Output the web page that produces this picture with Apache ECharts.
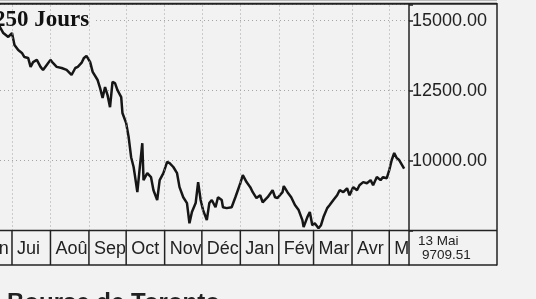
<!DOCTYPE html>
<html>
<head>
<meta charset="utf-8">
<script src="https://cdn.jsdelivr.net/npm/echarts@6/dist/echarts.min.js"></script>
<style>
html, body { margin: 0; padding: 0; background: #f2f2f2; }
#chart { width: 536px; height: 299px; }
</style>
</head>
<body>
<div id="chart"></div>
<script>
// indice de la Bourse de Toronto (250 jours)
const dates = [
  '2008-06-21', '2008-06-24', '2008-06-28', '2008-07-01', '2008-07-03', '2008-07-06', '2008-07-09', '2008-07-11',
  '2008-07-14', '2008-07-16', '2008-07-18', '2008-07-21', '2008-07-24', '2008-07-26', '2008-07-29', '2008-08-01',
  '2008-08-03', '2008-08-06', '2008-08-10', '2008-08-14', '2008-08-18', '2008-08-21', '2008-08-23', '2008-08-26',
  '2008-08-28', '2008-08-30', '2008-09-02', '2008-09-04', '2008-09-08', '2008-09-10', '2008-09-12', '2008-09-14',
  '2008-09-16', '2008-09-18', '2008-09-20', '2008-09-22', '2008-09-24', '2008-09-27', '2008-09-28', '2008-10-01',
  '2008-10-03', '2008-10-05', '2008-10-07', '2008-10-08', '2008-10-10', '2008-10-12', '2008-10-14', '2008-10-15',
  '2008-10-18', '2008-10-21', '2008-10-23', '2008-10-26', '2008-10-28', '2008-10-31', '2008-11-03', '2008-11-05',
  '2008-11-08', '2008-11-11', '2008-11-13', '2008-11-16', '2008-11-19', '2008-11-21', '2008-11-23', '2008-11-26',
  '2008-11-28', '2008-11-30', '2008-12-02', '2008-12-05', '2008-12-07', '2008-12-09', '2008-12-12', '2008-12-14',
  '2008-12-17', '2008-12-18', '2008-12-21', '2008-12-25', '2008-12-28', '2009-01-01', '2009-01-03', '2009-01-06',
  '2009-01-09', '2009-01-11', '2009-01-14', '2009-01-17', '2009-01-19', '2009-01-23', '2009-01-27', '2009-01-29',
  '2009-01-31', '2009-02-04', '2009-02-05', '2009-02-08', '2009-02-11', '2009-02-14', '2009-02-17', '2009-02-20',
  '2009-02-21', '2009-02-24', '2009-02-26', '2009-02-28', '2009-03-02', '2009-03-05', '2009-03-07', '2009-03-09',
  '2009-03-12', '2009-03-14', '2009-03-17', '2009-03-20', '2009-03-22', '2009-03-25', '2009-03-28', '2009-03-30',
  '2009-04-02', '2009-04-05', '2009-04-07', '2009-04-10', '2009-04-13', '2009-04-16', '2009-04-18', '2009-04-21',
  '2009-04-24', '2009-04-26', '2009-04-29', '2009-05-01', '2009-05-03', '2009-05-05', '2009-05-07', '2009-05-09',
  '2009-05-13'
];
const values = [
  14800, 14560, 14420, 14560, 14130, 13950, 13850, 13700,
  13670, 13350, 13520, 13600, 13350, 13240, 13420, 13600,
  13490, 13350, 13310, 13240, 13060, 13310, 13350, 13490,
  13670, 13740, 13520, 13170, 12880, 12590, 12240, 12630,
  12340, 11910, 12810, 12770, 12520, 12270, 11700, 11340,
  10840, 10120, 9770, 9480, 8870, 9770, 10620, 9300,
  9550, 9410, 8940, 8590, 9300, 9550, 9950, 9910,
  9770, 9550, 9050, 8690, 8480, 7760, 8160, 8480,
  9230, 8590, 8230, 7870, 8480, 8590, 8330, 8690,
  8590, 8330, 8300, 8330, 8690, 9190, 9480, 9230,
  9050, 8870, 8660, 8760, 8510, 8690, 8940, 8690,
  8660, 8870, 9090, 8870, 8690, 8410, 8230, 7870,
  7620, 7980, 8160, 7690, 7760, 7580, 7690, 7980,
  8300, 8410, 8590, 8760, 8940, 8870, 9010, 8760,
  9050, 8940, 9120, 9230, 9190, 9300, 9120, 9410,
  9300, 9410, 9370, 9660, 10020, 10270, 10090, 10020,
  9709.51
];
const monthStarts = [
  '2008-06-01', '2008-07-01', '2008-08-01', '2008-09-01', '2008-10-01', '2008-11-01',
  '2008-12-01', '2009-01-01', '2009-02-01', '2009-03-01', '2009-04-01', '2009-05-01'
];
const monthLabels = ['Jun', 'Jui', 'Aoû', 'Sep', 'Oct', 'Nov', 'Déc', 'Jan', 'Fév', 'Mar', 'Avr', 'Mai'];
const yTickLabels = [10000, 12500, 15000];
const xMin = '2008-06-21 08:00';
const xMax = '2009-05-16 22:00';

const bg = '#f2f2f2';
const ink = '#222';

const lastDate = dates[dates.length - 1].split('-');
const lastLabel = (+lastDate[2]) + ' ' + monthLabels[(+lastDate[1] - 6 + 12) % 12];
const lastValue = values[values.length - 1].toFixed(2);

const cells = monthStarts.map((s, i) => [s, i + 1 < monthStarts.length ? monthStarts[i + 1] : xMax]);

const chart = echarts.init(document.getElementById('chart'), null, { renderer: 'canvas' });

const option = {
  backgroundColor: bg,
  animation: false,
  textStyle: { fontFamily: 'Liberation Sans' },
  grid: [
    { left: 0, top: 4.5, right: 127, bottom: 68.5 },
    { left: 0, top: 230.5, right: 127, bottom: 34 }
  ],
  xAxis: [
    {
      type: 'time', gridIndex: 0, min: xMin, max: xMax,
      axisLine: { show: false }, axisTick: { show: false },
      axisLabel: { show: false }, splitLine: { show: false }
    },
    {
      type: 'time', gridIndex: 1, min: xMin, max: xMax, show: false
    }
  ],
  yAxis: [
    {
      type: 'value', gridIndex: 0, position: 'right',
      min: 7500, max: 15580, interval: 2500,
      axisLine: { show: false },
      axisTick: { show: true, inside: false, length: 4, lineStyle: { color: ink, width: 1.5 } },
      axisLabel: {
        margin: 3, color: ink, fontSize: 18, fontFamily: 'Liberation Sans',
        formatter: v => (yTickLabels.includes(v) ? v.toFixed(2) : '')
      },
      splitLine: { show: true, lineStyle: { type: [1, 3], color: '#a5a5a5', width: 1 } }
    },
    { type: 'value', gridIndex: 1, min: 0, max: 1, show: false }
  ],
  series: [
    {
      type: 'line', xAxisIndex: 0, yAxisIndex: 0,
      data: dates.map((d, i) => [d, values[i]]),
      showSymbol: false, symbol: 'none',
      lineStyle: { color: '#161616', width: 2.5 },
      z: 3,
      markLine: {
        silent: true, symbol: ['none', 'none'],
        label: { show: false },
        lineStyle: { type: [1, 3], color: '#a5a5a5', width: 1 },
        data: monthStarts.slice(1).map(m => ({ xAxis: m }))
      }
    },
    {
      type: 'custom', xAxisIndex: 1, yAxisIndex: 1,
      data: cells,
      encode: { x: [0, 1] },
      clip: false,
      renderItem(params, api) {
        const cs = params.coordSys;
        const x0 = api.coord([api.value(0), 0])[0];
        const x1 = api.coord([api.value(1), 0])[0];
        const left = Math.max(x0, cs.x);
        const right = Math.min(x1, cs.x + cs.width);
        const children = [];
        if (x0 >= cs.x) {
          children.push({
            type: 'line',
            shape: { x1: x0, y1: cs.y, x2: x0, y2: cs.y + cs.height },
            style: { stroke: ink, lineWidth: 1.5 }
          });
        }
        children.push({
          type: 'group',
          clipPath: { type: 'rect', shape: { x: left, y: cs.y, width: Math.max(0, right - left - 1), height: cs.height } },
          children: [{
            type: 'text',
            style: {
              x: x0 + 5, y: cs.y + cs.height / 2 + 1,
              text: monthLabels[params.dataIndex],
              font: '18px "Liberation Sans"',
              fill: ink, align: 'left', verticalAlign: 'middle'
            }
          }]
        });
        return { type: 'group', children };
      }
    }
  ],
  graphic: [
    // cadre
    { type: 'line', z: 50, shape: { x1: 0, y1: 0.5, x2: 497, y2: 0.5 }, style: { stroke: '#bbb', lineWidth: 1 } },
    { type: 'line', z: 50, shape: { x1: 0, y1: 3.7, x2: 497, y2: 3.7 }, style: { stroke: ink, lineWidth: 2 } },
    { type: 'line', z: 50, shape: { x1: 409, y1: 3, x2: 409, y2: 265.5 }, style: { stroke: ink, lineWidth: 1.5 } },
    { type: 'line', z: 50, shape: { x1: 497, y1: 3, x2: 497, y2: 265.5 }, style: { stroke: ink, lineWidth: 1.5 } },
    { type: 'line', z: 50, shape: { x1: 0, y1: 230.5, x2: 497, y2: 230.5 }, style: { stroke: ink, lineWidth: 1.5 } },
    { type: 'line', z: 50, shape: { x1: 0, y1: 265, x2: 497, y2: 265 }, style: { stroke: ink, lineWidth: 1.5 } },
    // titre
    { type: 'rect', z: 1, shape: { x: 0, y: 9, width: 96, height: 22 }, style: { fill: bg } },
    {
      type: 'text', z: 60, x: -6, y: 20.5,
      style: { text: '250 Jours', font: 'bold 23px "Liberation Serif"', fill: '#111', verticalAlign: 'middle' }
    },
    // dernière valeur
    {
      type: 'text', z: 60, x: 418, y: 241,
      style: { text: lastLabel, font: '13.5px "Liberation Sans"', fill: ink, verticalAlign: 'middle' }
    },
    {
      type: 'text', z: 60, x: 422, y: 255.5,
      style: { text: lastValue, font: '13.5px "Liberation Sans"', fill: ink, verticalAlign: 'middle' }
    },
    {
      type: 'text', z: 60, x: 7, y: 303,
      style: { text: 'Bourse de Toronto', font: 'bold 24px "Liberation Sans"', fill: ink, verticalAlign: 'middle' }
    }
  ]
};

chart.setOption(option);
</script>
</body>
</html>
